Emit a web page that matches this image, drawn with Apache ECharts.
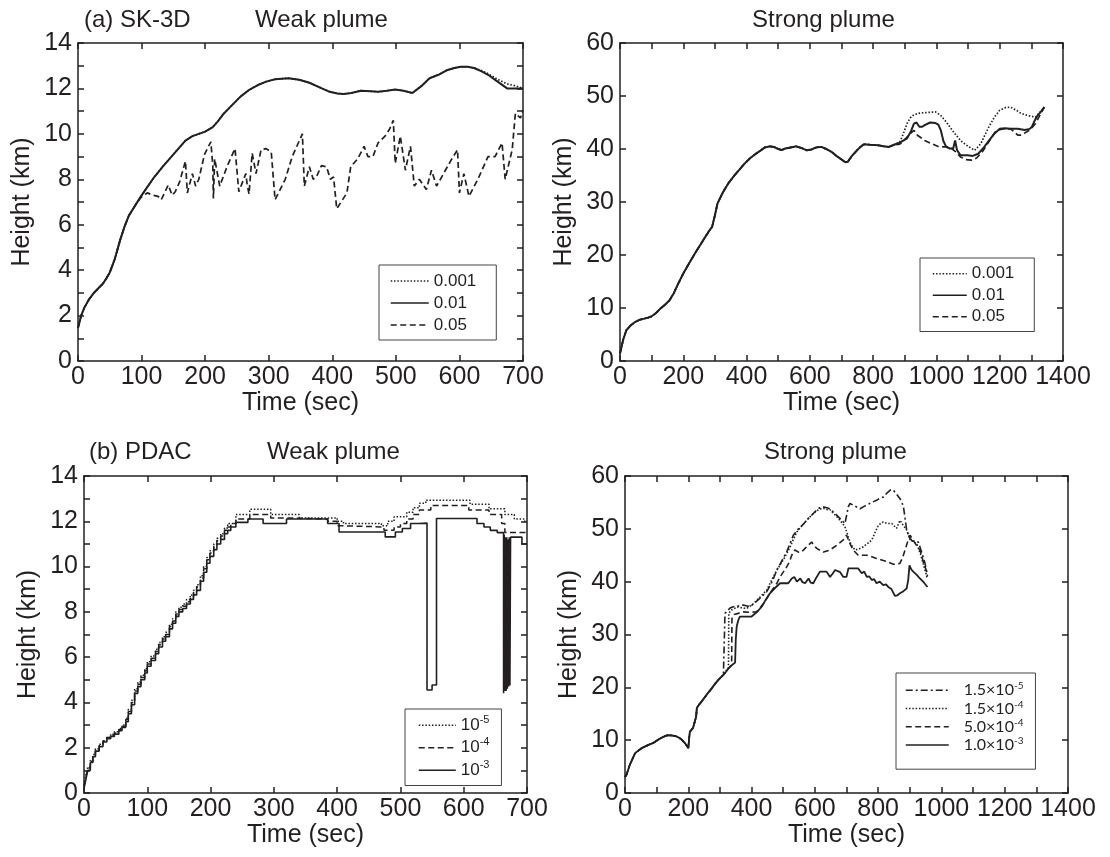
<!DOCTYPE html>
<html><head><meta charset="utf-8">
<script src="https://cdn.jsdelivr.net/npm/echarts@6/dist/echarts.min.js"></script>
<style>html,body{margin:0;padding:0;background:#fff}#c{width:1110px;height:857px}</style>
</head><body><div id="c"></div>
<script>
// ---------- DATA ----------
// (a) SK-3D weak plume : [time (s), height (km)]
const skWeak_001 = [[0,1.45],[5,2.0],[10,2.35],[17,2.7],[25,3.0],[32,3.2],[39,3.4],[45,3.65],[50,3.9],[58,4.5],[66,5.3],[73,5.9],[80,6.4],[90,6.85],[99,7.25],[110,7.7],[120,8.1],[133,8.55],[147,9.0],[158,9.35],[169,9.7],[180,9.9],[190,10.0],[200,10.1],[212,10.3],[220,10.55],[228,10.85],[240,11.2],[256,11.65],[270,11.95],[283,12.15],[296,12.3],[310,12.4],[331,12.45],[348,12.38],[364,12.25],[380,12.05],[396,11.85],[408,11.78],[418,11.75],[430,11.8],[445,11.9],[460,11.88],[472,11.85],[486,11.9],[499,11.95],[512,11.9],[526,11.8],[540,12.1],[553,12.45],[567,12.6],[580,12.8],[592,12.9],[602,12.95],[613,12.95],[623,12.9],[635,12.78],[645,12.65],[660,12.4],[675,12.2],[690,12.1],[700,12.0]];
const skWeak_01 = [[0,1.45],[5,2.0],[10,2.35],[17,2.7],[25,3.0],[32,3.2],[39,3.4],[45,3.65],[50,3.9],[58,4.5],[66,5.3],[73,5.9],[80,6.4],[90,6.85],[99,7.25],[110,7.7],[120,8.1],[133,8.55],[147,9.0],[158,9.35],[169,9.7],[180,9.9],[190,10.0],[200,10.1],[212,10.3],[220,10.55],[228,10.85],[240,11.2],[256,11.65],[270,11.95],[283,12.15],[296,12.3],[310,12.4],[331,12.45],[348,12.38],[364,12.25],[380,12.05],[396,11.85],[408,11.78],[418,11.75],[430,11.8],[445,11.9],[460,11.88],[472,11.85],[486,11.9],[499,11.95],[512,11.9],[526,11.8],[540,12.1],[553,12.45],[567,12.6],[580,12.8],[592,12.9],[602,12.95],[613,12.95],[623,12.9],[635,12.75],[645,12.6],[660,12.3],[675,12.0],[690,12.0],[700,12.0]];
const skWeak_05 = [[0,1.45],[5,2.0],[10,2.35],[17,2.7],[25,3.0],[32,3.2],[39,3.4],[45,3.65],[50,3.9],[58,4.5],[66,5.3],[73,5.9],[80,6.4],[90,6.85],[99,7.2],[109,7.4],[118,7.3],[126,7.25],[131,7.1],[142,7.75],[148,7.3],[153,7.45],[160,7.9],[169,8.8],[172,7.4],[180,8.25],[185,7.7],[190,8.0],[199,9.1],[209,9.65],[212,8.6],[213,7.15],[215,8.9],[218,8.85],[223,7.7],[235,8.6],[247,9.35],[253,7.45],[264,8.25],[266,7.8],[269,7.35],[274,9.15],[280,8.25],[288,9.3],[296,9.35],[304,9.2],[310,7.1],[326,8.0],[337,9.0],[353,10.0],[356,7.7],[364,8.55],[370,8.0],[375,8.1],[383,8.6],[391,8.55],[397,8.0],[402,8.1],[407,6.7],[423,7.4],[429,8.55],[440,8.9],[450,9.45],[456,9.0],[464,9.0],[472,9.6],[483,9.9],[490,10.2],[496,10.6],[499,8.7],[507,9.9],[515,8.4],[523,9.45],[529,7.7],[537,8.0],[548,7.55],[556,8.4],[564,7.7],[575,8.25],[586,8.8],[597,9.3],[600,7.4],[607,8.25],[615,7.25],[629,8.0],[645,9.0],[656,9.0],[667,9.6],[672,8.0],[683,9.3],[688,10.9],[696,10.7],[700,11.05]];

// (a) SK-3D strong plume
const skStrong_common = [[0,1.4],[10,4.0],[20,5.8],[35,6.8],[49,7.4],[63,7.8],[77,8.0],[90,8.2],[99,8.4],[113,9.0],[128,9.9],[142,10.6],[156,11.4],[170,12.8],[184,14.6],[200,16.5],[218,18.4],[240,20.6],[263,22.8],[280,24.4],[291,25.3],[300,27.5],[308,29.7],[325,31.8],[342,33.5],[360,34.9],[376,36.0],[393,37.2],[410,38.2],[427,39.0],[444,39.7],[458,40.3],[472,40.5],[486,40.4],[500,40.0],[511,39.8],[522,40.1],[540,40.3],[557,40.5],[573,40.2],[590,39.75],[605,39.9],[620,40.3],[636,40.4],[652,40.0],[670,39.4],[686,38.6],[703,37.9],[712,37.5],[720,37.6],[733,38.7],[749,39.75],[760,40.4],[771,40.9],[790,40.8],[816,40.7],[833,40.5],[850,40.4],[866,40.8]];
const skStrong_001_tail = [[884,41.3],[895,42.8],[907,44.8],[918,45.9],[929,46.5],[950,46.8],[975,46.9],[997,47.0],[1014,46.3],[1031,45.1],[1053,43.3],[1076,41.6],[1098,40.6],[1121,39.75],[1140,41.0],[1166,44.2],[1183,46.0],[1200,47.3],[1217,47.8],[1234,47.9],[1250,47.4],[1268,46.7],[1290,46.3],[1313,46.0],[1328,47.0],[1341,47.9]];
const skStrong_01_tail = [[884,41.2],[907,42.0],[920,43.4],[929,44.8],[937,45.0],[946,44.2],[955,44.2],[963,44.5],[980,45.0],[997,44.9],[1006,44.6],[1014,43.5],[1022,41.5],[1031,40.4],[1042,40.1],[1053,40.1],[1059,41.6],[1065,39.8],[1076,38.8],[1098,38.8],[1115,38.7],[1132,39.1],[1150,40.3],[1166,41.6],[1183,42.9],[1200,43.8],[1217,43.9],[1234,43.8],[1257,43.8],[1279,43.6],[1295,43.8],[1302,44.2],[1310,45.3],[1319,46.3],[1330,47.0],[1341,47.9]];
const skStrong_05_tail = [[884,40.9],[900,41.8],[915,42.8],[929,43.5],[940,42.6],[963,41.6],[985,41.0],[1008,40.4],[1042,40.4],[1060,39.5],[1076,38.5],[1093,38.0],[1110,37.9],[1127,38.3],[1144,39.4],[1166,41.4],[1189,43.5],[1210,43.8],[1234,43.8],[1245,43.3],[1257,42.6],[1268,42.6],[1279,43.0],[1297,43.7],[1313,44.8],[1328,46.5],[1341,47.9]];

// (b) PDAC weak plume (stepped output)
const pdacWeak_e5 = [[0,0.35],[3,0.8],[6,1.15],[10,1.45],[14,1.7],[18,1.95],[24,2.15],[30,2.3],[36,2.45],[42,2.6],[48,2.7],[55,2.85],[60,3.0],[66,3.3],[70,3.7],[75,4.1],[80,4.6],[85,4.9],[90,5.2],[96,5.5],[100,5.8],[106,6.05],[113,6.35],[118,6.65],[124,6.9],[129,7.1],[135,7.45],[140,7.7],[145,8.0],[150,8.2],[156,8.35],[162,8.55],[168,8.75],[173,8.95],[178,9.2],[184,9.6],[189,10.0],[194,10.4],[199,10.7],[205,11.0],[210,11.25],[216,11.45],[222,11.7],[227,11.9],[240,12.3],[262,12.53],[295,12.3],[340,12.15],[400,12.0],[410,11.9],[470,11.8],[480,12.0],[490,12.2],[510,12.4],[520,12.6],[530,12.8],[540,12.93],[610,12.75],[640,12.55],[665,12.3],[680,12.1],[695,12.0],[700,12.0]];
const pdacWeak_e4 = [[0,0.3],[3,0.7],[6,1.1],[10,1.4],[14,1.65],[18,1.9],[24,2.1],[30,2.3],[36,2.45],[42,2.55],[48,2.65],[55,2.8],[60,2.95],[66,3.25],[70,3.6],[75,4.0],[80,4.5],[85,4.8],[90,5.1],[96,5.4],[100,5.7],[106,5.95],[113,6.25],[118,6.55],[124,6.8],[129,7.0],[135,7.35],[140,7.6],[145,7.9],[150,8.1],[156,8.25],[162,8.45],[168,8.65],[173,8.85],[178,9.1],[184,9.5],[189,9.9],[194,10.3],[199,10.6],[205,10.9],[210,11.15],[216,11.35],[222,11.6],[227,11.75],[232,11.9],[240,12.1],[262,12.3],[295,12.15],[320,12.1],[385,12.0],[400,11.8],[410,11.75],[474,11.6],[490,11.75],[500,11.9],[510,12.1],[520,12.3],[530,12.5],[548,12.7],[608,12.5],[640,12.3],[660,11.9],[665,11.5],[700,11.46]];
const pdacWeak_e3 = [[0,0.2],[3,0.6],[6,1.0],[10,1.35],[14,1.6],[18,1.85],[24,2.05],[30,2.25],[36,2.4],[42,2.5],[48,2.6],[55,2.75],[60,2.9],[66,3.15],[70,3.5],[75,3.9],[80,4.4],[85,4.7],[90,5.0],[96,5.3],[100,5.6],[106,5.85],[113,6.15],[118,6.45],[124,6.7],[129,6.9],[135,7.25],[140,7.5],[145,7.8],[150,8.0],[156,8.15],[162,8.35],[168,8.55],[173,8.75],[178,8.95],[184,9.35],[189,9.75],[194,10.15],[199,10.45],[205,10.75],[210,11.0],[216,11.2],[222,11.45],[227,11.6],[232,11.75],[240,11.95],[259,12.1],[283,11.9],[320,12.1],[385,11.9],[403,11.53],[476,11.31],[492,11.53],[503,11.68],[516,11.9],[529,11.92],[542,4.55],[550,4.77],[557,12.12],[621,11.9],[632,11.75],[642,11.6],[653,11.5],[663,4.4],[664,11.4],[665,4.5],[666,11.3],[667,4.5],[668,11.3],[669,4.6],[670,11.2],[671,4.7],[672,11.3],[673,4.75],[674,11.3],[692,11.0],[700,11.0]];

// (b) PDAC strong plume
const pdacStrong_common = [[0,3.0],[5,3.5],[15,5.3],[32,7.55],[53,8.5],[74,9.1],[90,9.5],[105,10.1],[120,10.6],[132,10.9],[145,10.9],[158,10.8],[170,10.5],[179,10.1],[190,9.4],[200,8.5],[203,10.5],[205,11.6],[215,12.3],[221,12.6],[225,14.5],[227,16.1],[235,16.8],[242,17.3],[258,18.6],[274,19.8],[285,20.7],[295,21.4],[303,21.9],[311,22.35]];
const pdacStrong_15e5_tail = [[314,22.6],[316,34.0],[321,34.3],[332,35.0],[342,35.25],[358,35.4],[374,35.6],[395,35.25],[420,36.5],[448,38.1],[465,40.0],[480,42.2],[496,44.0],[511,45.6],[522,47.3],[532,48.8],[548,50.0],[564,50.9],[580,52.0],[595,52.9],[610,53.8],[622,54.2],[632,54.1],[643,53.9],[656,53.3],[669,52.6],[682,51.8],[695,51.0],[700,50.7],[706,54.2],[711,54.8],[727,54.3],[743,53.8],[754,54.2],[764,54.5],[780,55.0],[795,55.4],[805,55.8],[816,56.0],[825,56.6],[832,57.0],[840,57.4],[848,57.3],[858,56.6],[869,55.7],[875,55.0],[880,54.2],[885,52.0],[890,49.8],[898,48.5],[906,47.8],[917,47.6],[927,47.5],[938,45.5],[948,43.5],[956,41.0]];
const pdacStrong_15e4_tail = [[320,23.2],[327,23.7],[328,34.0],[335,34.6],[345,34.9],[358,35.2],[372,35.0],[385,34.95],[405,35.8],[427,37.1],[448,38.4],[465,40.5],[480,42.2],[500,44.1],[511,45.3],[522,46.6],[532,48.0],[543,49.4],[558,50.5],[574,51.6],[588,52.5],[601,53.2],[614,53.7],[627,53.9],[640,53.6],[648,53.6],[661,52.8],[674,52.0],[685,51.2],[695,50.4],[703,49.0],[711,47.5],[719,46.6],[727,46.0],[740,46.2],[753,46.6],[766,47.2],[780,47.9],[790,49.3],[801,50.7],[816,51.3],[830,51.0],[843,51.0],[858,50.1],[869,51.6],[880,50.6],[890,49.8],[901,47.9],[911,47.6],[922,47.2],[935,45.0],[948,42.2],[956,40.5]];
const pdacStrong_50e4_tail = [[320,23.0],[327,23.6],[337,24.2],[338,33.0],[345,33.8],[358,34.0],[369,34.3],[395,34.2],[416,34.3],[430,35.3],[442,36.2],[460,38.0],[480,39.7],[490,40.9],[500,41.8],[511,42.8],[520,43.8],[527,45.0],[537,46.0],[548,45.6],[558,45.6],[569,46.3],[579,46.9],[590,47.5],[598,46.8],[606,46.3],[617,45.9],[627,45.6],[648,46.0],[669,46.9],[690,47.9],[700,48.8],[711,47.2],[721,46.0],[737,45.0],[764,45.0],[780,44.7],[795,44.4],[811,44.1],[827,43.8],[848,43.3],[862,43.3],[869,43.5],[877,44.5],[885,46.0],[893,47.5],[901,48.8],[911,47.8],[922,46.8],[932,46.0],[945,43.3],[956,41.5]];
const pdacStrong_10e3_tail = [[320,23.0],[327,23.6],[338,24.2],[348,24.7],[350,29.0],[353,31.5],[358,32.7],[363,33.4],[380,33.4],[400,33.4],[416,34.2],[432,35.25],[445,36.6],[458,37.8],[474,38.8],[490,39.7],[516,39.7],[527,40.6],[535,40.9],[543,40.0],[554,40.6],[561,39.9],[569,39.7],[580,40.6],[587,39.8],[595,39.7],[605,40.8],[616,41.9],[637,41.9],[648,40.9],[656,41.5],[664,42.2],[680,41.8],[690,40.9],[700,40.9],[706,42.5],[737,42.5],[748,41.6],[756,41.9],[764,40.9],[772,41.0],[780,40.3],[787,40.5],[795,39.7],[805,40.0],[816,39.35],[825,39.5],[832,39.0],[842,38.6],[853,37.3],[860,37.4],[869,37.8],[880,38.2],[890,38.7],[895,40.3],[899,43.1],[905,42.3],[911,41.9],[922,41.3],[932,40.6],[945,39.8],[956,39.0]];

// labels
const skNames = ['0.001','0.01','0.05'];
const pdacWeakNames = ['10^-5','10^-4','10^-3'];
const pdacStrongNames = ['1.5×10^-5','1.5×10^-4','5.0×10^-4','1.0×10^-3'];
const titlesA = ['(a) SK-3D','Weak plume','Strong plume'];
const titlesB = ['(b) PDAC','Weak plume','Strong plume'];
const xName = 'Time (sec)', yName = 'Height (km)';

// ---------- STYLE ----------
const FONT = 'Liberation Sans';
const TXT = '#231f20';
const LINE = '#231f20';
const grids = [
  {left:78, top:43, width:445, height:318},
  {left:620, top:43, width:443, height:318},
  {left:84, top:476, width:443, height:317},
  {left:625, top:476, width:443, height:317}
];
const axisLineStyle = {color:LINE, width:1.5};
function xAxes(gi, max, labelStep){
  return [{
    type:'value', gridIndex:gi, min:0, max:max, interval:100, position:'bottom',
    name:xName, nameLocation:'middle', nameGap:24,
    nameTextStyle:{fontFamily:FONT, fontSize:25, color:TXT, verticalAlign:'top'},
    axisLine:{show:true, onZero:false, lineStyle:axisLineStyle},
    axisTick:{show:true, inside:true, length:6, lineStyle:axisLineStyle},
    axisLabel:{margin:4, fontFamily:FONT, fontSize:25, color:TXT, formatter:v => (v % labelStep === 0 ? String(v) : '')},
    splitLine:{show:false}
  },{
    type:'value', gridIndex:gi, min:0, max:max, interval:100, position:'top',
    axisLine:{show:true, onZero:false, lineStyle:axisLineStyle},
    axisTick:{show:true, inside:true, length:6, lineStyle:axisLineStyle},
    axisLabel:{show:false}, splitLine:{show:false}
  }];
}
function yAxes(gi, max, interval, labelStep){
  return [{
    type:'value', gridIndex:gi, min:0, max:max, interval:interval, position:'left',
    name:yName, nameLocation:'middle', nameGap:43,
    nameTextStyle:{fontFamily:FONT, fontSize:25, color:TXT},
    axisLine:{show:true, onZero:false, lineStyle:axisLineStyle},
    axisTick:{show:true, inside:true, length:6, lineStyle:axisLineStyle},
    axisLabel:{margin:6, fontFamily:FONT, fontSize:25, color:TXT, formatter:v => (v % labelStep === 0 ? String(v) : '')},
    splitLine:{show:false}
  },{
    type:'value', gridIndex:gi, min:0, max:max, interval:interval, position:'right',
    axisLine:{show:true, onZero:false, lineStyle:axisLineStyle},
    axisTick:{show:true, inside:true, length:6, lineStyle:axisLineStyle},
    axisLabel:{show:false}, splitLine:{show:false}
  }];
}
const DOT = [1.5,1.8], DASH = [6,3.5], DASHDOT = [7,3,2,3], SOLID = 'solid';
function ser(gi, name, data, type, width, step){
  const s = {type:'line', name:name, xAxisIndex:gi*2, yAxisIndex:gi*2, data:data,
    symbol:'none', showSymbol:false, animation:false, silent:true,
    lineStyle:{color:LINE, width:width, type:type}, itemStyle:{color:'rgba(0,0,0,0)'}};
  if (step) s.step = step;
  return s;
}
const series = [
  ser(0, skNames[0], skWeak_001, DOT, 1.7),
  ser(0, skNames[2], skWeak_05, DASH, 1.7),
  ser(0, skNames[1], skWeak_01, SOLID, 2),
  ser(1, skNames[0], skStrong_common.concat(skStrong_001_tail), DOT, 1.7),
  ser(1, skNames[2], skStrong_common.concat(skStrong_05_tail), DASH, 1.7),
  ser(1, skNames[1], skStrong_common.concat(skStrong_01_tail), SOLID, 2),
  ser(2, pdacWeakNames[0], pdacWeak_e5, DOT, 1.5, 'end'),
  ser(2, pdacWeakNames[1], pdacWeak_e4, DASH, 1.5, 'end'),
  ser(2, pdacWeakNames[2], pdacWeak_e3, SOLID, 1.6, 'end'),
  ser(3, pdacStrongNames[0], pdacStrong_common.concat(pdacStrong_15e5_tail), DASHDOT, 1.6),
  ser(3, pdacStrongNames[1], pdacStrong_common.concat(pdacStrong_15e4_tail), DOT, 1.6),
  ser(3, pdacStrongNames[2], pdacStrong_common.concat(pdacStrong_50e4_tail), DASH, 1.6),
  ser(3, pdacStrongNames[3], pdacStrong_common.concat(pdacStrong_10e3_tail), SOLID, 1.8)
];
const supFmt = n => n.replace(/\^(.+)$/, '{sup|$1}');
function legend(data, left, top, padding, itemWidth, fontSize, lineHeight, family, textPad){
  return {
    data:data, orient:'vertical', left:left, top:top, padding:padding,
    itemWidth:itemWidth, itemHeight:12, itemGap:0, selectedMode:false,
    borderColor:'#444', borderWidth:1, backgroundColor:'#fff',
    itemStyle:{color:'rgba(0,0,0,0)', opacity:0, borderWidth:0},
    lineStyle:{width:1.5, color:LINE},
    formatter:supFmt,
    textStyle:{fontFamily:family, fontSize:fontSize, color:TXT, lineHeight:lineHeight, padding:textPad,
      rich:{sup:{fontFamily:family, fontSize:Math.round(fontSize*0.62), color:TXT, verticalAlign:'top', lineHeight:Math.round(lineHeight*0.55)}}}
  };
}
const tStyle = {fontFamily:FONT, fontSize:24, fontWeight:'normal', color:TXT};
const option = {
  backgroundColor:'#fff',
  animation:false,
  title:[
    {text:titlesA[0], left:84, top:8, padding:0, textStyle:tStyle},
    {text:titlesA[1], left:255, top:8, padding:0, textStyle:tStyle},
    {text:titlesA[2], left:752, top:8, padding:0, textStyle:tStyle},
    {text:titlesB[0], left:89, top:440, padding:0, textStyle:tStyle},
    {text:titlesB[1], left:267, top:440, padding:0, textStyle:tStyle},
    {text:titlesB[2], left:764, top:440, padding:0, textStyle:tStyle}
  ],
  grid:grids.map(g => Object.assign({containLabel:false}, g)),
  xAxis:[].concat(xAxes(0,700,100), xAxes(1,1400,200), xAxes(2,700,100), xAxes(3,1400,200)),
  yAxis:[].concat(yAxes(0,14,1,2), yAxes(1,60,10,10), yAxes(2,14,1,2), yAxes(3,60,10,10)),
  legend:[
    legend(skNames, 379, 265, [5,20,4,11], 38, 17, 22, FONT, [0,0,0,0]),
    legend(skNames, 920, 258, [5,20,4,12], 34, 17, 21.5, FONT, [0,0,0,0]),
    legend(pdacWeakNames, 405, 709, [5,12,4,13], 37, 17, 22.5, FONT, [0,0,0,0]),
    legend(pdacStrongNames, 896, 673, [8,12,15,9], 43, 16, 18.3, 'Lato', [0,0,0,10])
  ],
  series:series
};
const chart = echarts.init(document.getElementById('c'), null, {renderer:'canvas'});
chart.setOption(option);
</script>
</body></html>
